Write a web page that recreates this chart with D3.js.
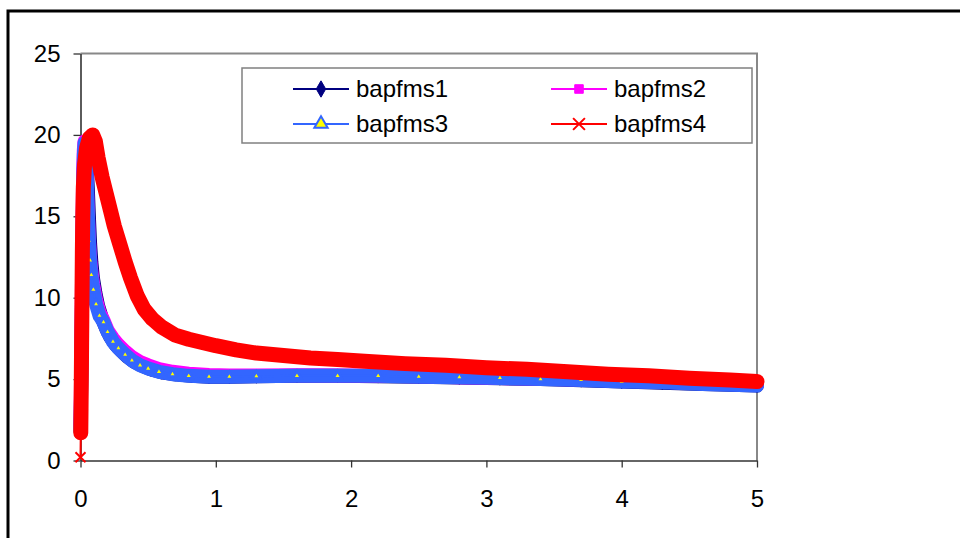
<!DOCTYPE html>
<html><head><meta charset="utf-8">
<script src="https://cdn.jsdelivr.net/npm/d3@7"></script>
<style>body{margin:0;background:#fff} svg{display:block} text{font-family:"Liberation Sans",Arial,sans-serif;fill:#000}</style>
</head><body><svg id="c" width="960" height="538"></svg>
<script>
const seriesNames = ["bapfms1","bapfms2","bapfms3","bapfms4"];
const xTicks = [0,1,2,3,4,5];
const yTicks = [0,5,10,15,20,25];
const bapfms1 = [[0.000,1.8],[0.003,3.3],[0.006,5.3],[0.009,7.8],[0.012,10.3],[0.015,12.8],[0.018,15.2],[0.022,17.3],[0.027,18.7],[0.033,19.3],[0.040,19.1],[0.047,18.0],[0.055,16.5],[0.063,14.8],[0.071,13.3],[0.080,12.2],[0.092,11.2],[0.11,10.3],[0.13,9.5],[0.16,8.7],[0.19,8.1],[0.22,7.6],[0.26,7.1],[0.30,6.75],[0.35,6.35],[0.40,6.05],[0.46,5.8],[0.52,5.6],[0.60,5.42],[0.70,5.3],[0.82,5.2],[0.95,5.15],[1.1,5.15],[1.3,5.17],[1.6,5.2],[1.9,5.2],[2.2,5.18],[2.5,5.15],[2.8,5.1],[3.1,5.05],[3.4,5.0],[3.7,4.93],[4.0,4.85],[4.3,4.78],[4.6,4.7],[5.0,4.6]];
const bapfms2 = [[0.000,2.2],[0.002,3.6],[0.005,5.8],[0.008,8.4],[0.011,11.0],[0.014,13.6],[0.017,16.0],[0.020,17.8],[0.024,19.0],[0.029,19.6],[0.035,19.4],[0.041,18.5],[0.047,17.0],[0.054,15.3],[0.061,13.8],[0.069,12.6],[0.079,11.7],[0.094,10.8],[0.114,9.9],[0.14,9.1],[0.17,8.6],[0.20,8.0],[0.24,7.5],[0.28,7.1],[0.33,6.7],[0.38,6.35],[0.44,6.05],[0.50,5.85],[0.58,5.62],[0.68,5.45],[0.80,5.33],[0.95,5.25],[1.1,5.22],[1.3,5.22],[1.6,5.23],[1.9,5.22],[2.2,5.2],[2.5,5.17],[2.8,5.12],[3.1,5.07],[3.4,5.02],[3.7,4.97],[4.0,4.9],[4.3,4.83],[4.6,4.75],[5.0,4.65]];
const bapfms3 = [[0.000,2.0],[0.003,3.5],[0.006,5.5],[0.009,8.0],[0.012,10.5],[0.015,13.0],[0.018,15.5],[0.021,17.5],[0.025,18.8],[0.030,19.5],[0.036,19.3],[0.042,18.3],[0.048,16.8],[0.055,15.0],[0.062,13.5],[0.070,12.3],[0.080,11.4],[0.095,10.5],[0.115,9.6],[0.14,8.9],[0.17,8.5],[0.20,7.9],[0.24,7.3],[0.28,6.9],[0.33,6.5],[0.38,6.15],[0.44,5.85],[0.50,5.65],[0.58,5.45],[0.68,5.3],[0.80,5.2],[0.95,5.15],[1.1,5.15],[1.3,5.18],[1.6,5.2],[1.9,5.2],[2.2,5.2],[2.5,5.15],[2.8,5.12],[3.1,5.07],[3.4,5.0],[3.7,4.95],[4.0,4.85],[4.3,4.8],[4.6,4.7],[5.0,4.6]];
const bapfms4 = [[0.000,0.2],[0.002,1.7],[0.004,3.2],[0.006,5.0],[0.008,7.0],[0.010,9.0],[0.012,11.0],[0.014,13.0],[0.017,15.0],[0.021,16.8],[0.030,18.2],[0.045,19.2],[0.065,19.8],[0.090,20.0],[0.11,19.6],[0.13,18.6],[0.16,17.4],[0.19,16.4],[0.22,15.4],[0.25,14.4],[0.29,13.3],[0.33,12.2],[0.37,11.2],[0.42,10.1],[0.47,9.3],[0.53,8.7],[0.60,8.2],[0.70,7.7],[0.80,7.45],[0.90,7.25],[1.0,7.05],[1.15,6.8],[1.3,6.6],[1.5,6.45],[1.7,6.3],[1.9,6.2],[2.1,6.1],[2.4,5.95],[2.7,5.85],[3.0,5.7],[3.3,5.6],[3.6,5.45],[3.9,5.3],[4.2,5.2],[4.5,5.05],[4.8,4.95],[5.0,4.85]];
const seriesData = [bapfms1,bapfms2,bapfms3,bapfms4];
const lineColors = ["#000080","#FF00FF","#3366FF","#FF0000"];

const svg = d3.select("#c");
svg.append("rect").attr("x",8).attr("y",11).attr("width",1000).attr("height",600)
  .attr("fill","#fff").attr("stroke","#000").attr("stroke-width",3);

const x = d3.scaleLinear().domain([0,5]).range([80.5,757]);
const y = d3.scaleLinear().domain([0,25]).range([460.5,53.5]);

svg.append("path").attr("d",`M${x(0)},${y(25)}H${x(5)}V${y(0)}`)
  .attr("fill","none").attr("stroke","#888").attr("stroke-width",2);

const gy = svg.append("g").attr("transform",`translate(${x(0)},0)`)
  .call(d3.axisLeft(y).tickValues(yTicks).tickFormat(d3.format("d")).tickSize(7).tickSizeOuter(0).tickPadding(13));
const gx = svg.append("g").attr("transform",`translate(0,${y(0)})`)
  .call(d3.axisBottom(x).tickValues(xTicks).tickFormat(d3.format("d")).tickSize(7).tickSizeOuter(0));
[gy,gx].forEach(g=>{
  g.select(".domain").attr("stroke","#333").attr("stroke-width",1.6);
  g.selectAll(".tick line").attr("stroke","#333").attr("stroke-width",1.3);
  g.selectAll("text").style("font-size","24px").attr("fill","#000").style("font-family","'Liberation Sans',Arial,sans-serif");
});
gx.selectAll("text").attr("y",38).attr("dy","0.35em");

function marker(sel, i, s, legend){
  if(i===0){
    sel.append("path").attr("d",d3.symbol(d3.symbolDiamond, 55*s)()).attr("fill","#000080").attr("stroke","#000080");
  } else if(i===1){
    sel.append("path").attr("d",d3.symbol(d3.symbolSquare, 52*s)()).attr("fill","#FF00FF").attr("stroke","#FF00FF");
  } else if(i===2){
    sel.append("path").attr("d",d3.symbol(d3.symbolTriangle, (legend?55:30)*s)()).attr("fill","#FFFF00").attr("stroke","#3366FF").attr("stroke-width",legend?2:2.5);
  } else {
    const r = 5*Math.sqrt(s);
    sel.append("path").attr("d",`M${-r},${-r}L${r},${r}M${-r},${r}L${r},${-r}`).attr("stroke","#FF0000").attr("stroke-width",2).attr("fill","none");
  }
}

const line = d3.line().x(d=>x(d[0])).y(d=>y(d[1]));
const bandW = [14,14,14,15];
seriesData.forEach((data,i)=>{
  const g = svg.append("g");
  g.append("path").attr("d",line(data.slice(i===3?1:0))).attr("fill","none")
    .attr("stroke",lineColors[i]).attr("stroke-width",bandW[i])
    .attr("stroke-linejoin","round").attr("stroke-linecap","round");
  g.append("path").attr("d",line(data)).attr("fill","none").attr("stroke",lineColors[i]).attr("stroke-width",2);
  data.forEach(d=>{
    const m = g.append("g").attr("transform",`translate(${x(d[0])},${y(d[1])})`);
    marker(m,i,1,false);
  });
});

const lg = svg.append("g");
lg.append("rect").attr("x",242).attr("y",68).attr("width",510).attr("height",75)
  .attr("fill","#fff").attr("stroke","#808080").attr("stroke-width",1.5);
const legPos = [[293,89],[551,89],[293,124],[551,124]];
seriesNames.forEach((n,i)=>{
  const [lx,ly] = legPos[i];
  lg.append("line").attr("x1",lx).attr("x2",lx+56).attr("y1",ly).attr("y2",ly)
    .attr("stroke",lineColors[i]).attr("stroke-width",2);
  const m = lg.append("g").attr("transform",`translate(${lx+28},${ly})`);
  marker(m,i,1.4,true);
  lg.append("text").attr("x",lx+63).attr("y",ly).attr("dy","0.35em")
    .style("font-size","24px").text(n);
});
</script></body></html>
